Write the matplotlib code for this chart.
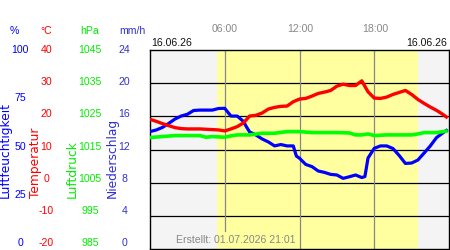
import matplotlib
matplotlib.use("Agg")
import matplotlib.pyplot as plt

# ---------------- data ----------------
temp_hours = [0, 0.5, 1, 1.5, 2, 2.5, 3, 3.5, 4, 4.5, 5, 5.5, 6, 6.5, 7, 7.5, 8, 8.5,
              9, 9.5, 10, 10.5, 11, 11.5, 12, 12.5, 13, 13.5, 14, 14.5, 15, 15.5, 16,
              16.5, 17, 17.5, 18, 18.5, 19, 19.5, 20, 20.5, 21, 21.5, 22, 22.5, 23,
              23.5, 23.9]
temperature = [19.1, 18.5, 17.8, 17.2, 16.6, 16.3, 16.2, 16.2, 16.2, 16.1, 16.0, 15.9,
               15.6, 16.2, 16.9, 18.0, 20.1, 20.3, 21.0, 22.2, 22.7, 23.0, 23.1, 24.4,
               25.2, 25.4, 26.1, 26.9, 27.3, 27.8, 29.1, 29.7, 29.3, 29.3, 30.7, 27.4,
               25.5, 25.4, 25.8, 26.6, 27.2, 27.8, 26.6, 25.1, 23.9, 22.8, 21.8, 20.6,
               19.5]

hum_hours = [0, 0.5, 1, 1.5, 2, 2.5, 3, 3.5, 4, 4.5, 5, 5.5, 6, 6.5, 7, 7.5, 7.75, 8,
             8.5, 9, 9.5, 10, 10.5, 11, 11.5, 11.75, 12, 12.5, 13, 13.5, 14, 14.5, 15,
             15.5, 16, 16.5, 17, 17.25, 17.5, 18, 18.5, 19, 19.5, 20, 20.5, 21, 21.5,
             22, 22.5, 23, 23.5, 23.9]
humidity = [59.0, 59.8, 61.1, 63.1, 65.3, 66.8, 67.7, 69.6, 69.8, 69.8, 69.8, 70.6,
            70.7, 66.8, 66.8, 64.1, 61.3, 58.8, 57.3, 55.3, 53.8, 51.8, 52.5, 51.8,
            51.8, 46.7, 45.6, 42.5, 41.4, 39.2, 38.5, 37.5, 37.2, 35.5, 36.3, 37.2,
            35.9, 36.4, 45.7, 50.6, 51.8, 51.8, 50.5, 47.0, 43.0, 43.2, 44.7, 48.2,
            51.8, 56.0, 58.3, 60.0]

press_hours = [0, 1, 2, 3, 4, 4.5, 5, 5.5, 6, 6.5, 7, 8, 9, 10, 11, 12, 13, 14, 15,
               16, 16.5, 17, 17.5, 18, 19, 20, 21, 21.5, 22, 23, 23.5, 23.9]
pressure = [1018.6, 1018.9, 1019.2, 1019.2, 1019.2, 1018.7, 1018.9, 1018.8, 1018.7,
            1019.1, 1019.4, 1019.4, 1019.9, 1019.9, 1020.4, 1020.4, 1020.1, 1020.1,
            1020.1, 1020.0, 1019.4, 1019.4, 1019.7, 1019.2, 1019.4, 1019.4, 1019.4,
            1019.7, 1020.1, 1020.1, 1020.4, 1020.6]

sunrise, sunset = 5.38, 21.55

pct_ticks = [100, 75, 50, 25, 0]
temp_ticks = [40, 30, 20, 10, 0, -10, -20]
hpa_ticks = [1045, 1035, 1025, 1015, 1005, 995, 985]
mm_ticks = [24, 20, 16, 12, 8, 4, 0]
time_ticks = [6, 12, 18]
time_labels = ["06:00", "12:00", "18:00"]
date_label = "16.06.26"
created_label = "Erstellt: 01.07.2026 21:01"

# ---------------- styling ----------------
FONT = "Liberation Sans"
plt.rcParams["font.family"] = [FONT, "DejaVu Sans"]
FS = 7.6
BLUE = "#0000ff"
RED = "#ff0000"
GREEN = "#00ee00"
PURPLE = "#3030d0"
GRAY = "#888888"

W, H = 450, 250
fig = plt.figure(figsize=(4.5, 2.5), dpi=100)
fig.patch.set_facecolor("white")


def fx(px):
    return px / W


def fy(py):
    return 1 - py / H


L, T, R, B = 150, 50, 449, 249
pos = [fx(L), fy(B), (R - L) / W, (B - T) / H]

ax = fig.add_axes(pos)
ax.set_xlim(0, 24)
ax.set_ylim(min(temp_ticks), max(temp_ticks))
ax.set_facecolor("#f4f4f4")
ax.axvspan(sunrise, sunset, color="#ffffa0", lw=0, zorder=0)
for v in temp_ticks[1:-1]:
    ax.axhline(v, color="black", lw=0.9, zorder=1)
for i, t in enumerate(time_ticks):
    ymin = 0.09 if i == 0 else 0.0
    ax.axvline(t, ymin=ymin, color="#888888", lw=0.9, zorder=1)
ax.set_xticks([])
ax.set_yticks([])
for s in ax.spines.values():
    s.set_color("black")
    s.set_linewidth(1.0)

ax_h = fig.add_axes(pos, frameon=False)
ax_h.set_xlim(0, 24)
ax_h.set_ylim(0, 100)
ax_h.axis("off")
ax_h.plot(hum_hours, humidity, color=BLUE, lw=2.3, solid_capstyle="butt", zorder=3)

ax_p = fig.add_axes(pos, frameon=False)
ax_p.set_xlim(0, 24)
ax_p.set_ylim(min(hpa_ticks), max(hpa_ticks))
ax_p.axis("off")
ax_p.plot(press_hours, pressure, color="#00ff00", lw=2.6, solid_capstyle="butt", zorder=3)

ax_t = fig.add_axes(pos, frameon=False)
ax_t.set_xlim(0, 24)
ax_t.set_ylim(min(temp_ticks), max(temp_ticks))
ax_t.axis("off")
ax_t.plot(temp_hours, temperature, color=RED, lw=2.4, solid_capstyle="butt", zorder=3)

# ---------------- texts ----------------
for t, lab in zip(time_ticks, time_labels):
    xp = L + t / 24 * (R - L + 1)
    fig.text(fx(xp), fy(29), lab, color=GRAY, fontsize=FS, ha="center", va="center")
fig.text(fx(151), fy(43), date_label, color="#111111", fontsize=FS, ha="left", va="center")
fig.text(fx(447), fy(43), date_label, color="#111111", fontsize=FS, ha="right", va="center")
fig.text(fx(236), fy(240), created_label, color=GRAY, fontsize=FS, ha="center", va="center")

fig.text(fx(14), fy(31), "%", color=BLUE, fontsize=FS, ha="center", va="center")
fig.text(fx(46.5), fy(31), "°C", color=RED, fontsize=FS, ha="center", va="center")
fig.text(fx(89.5), fy(31), "hPa", color=GREEN, fontsize=FS, ha="center", va="center")
fig.text(fx(132), fy(31), "mm/h", color=PURPLE, fontsize=FS, ha="center", va="center")

top_px, bot_px = 50, 243
n = len(temp_ticks) - 1
step = (bot_px - top_px) / n
for i, v in enumerate(temp_ticks):
    fig.text(fx(46.5), fy(top_px + i * step), f"{v}", color=RED, fontsize=FS,
             ha="center", va="center")
for i, v in enumerate(hpa_ticks):
    fig.text(fx(90), fy(top_px + i * step), f"{v}", color=GREEN, fontsize=FS,
             ha="center", va="center")
for i, v in enumerate(mm_ticks):
    fig.text(fx(124.5), fy(top_px + i * step), f"{v}", color=PURPLE, fontsize=FS,
             ha="center", va="center")
nP = len(pct_ticks) - 1
stepP = (bot_px - top_px) / nP
for i, v in enumerate(pct_ticks):
    fig.text(fx(20), fy(top_px + i * stepP), f"{v}", color=BLUE, fontsize=FS,
             ha="center", va="center")

RFS = 8.8
fig.text(fx(5.5), fy(198), "Luftfeuchtigkeit", color=BLUE, fontsize=RFS, rotation=90,
         ha="center", va="bottom", family="DejaVu Sans")
fig.text(fx(35), fy(198), "Temperatur", color=RED, fontsize=RFS, rotation=90,
         ha="center", va="bottom", family="DejaVu Sans")
fig.text(fx(72), fy(198), "Luftdruck", color=GREEN, fontsize=RFS, rotation=90,
         ha="center", va="bottom", family="DejaVu Sans")
fig.text(fx(112.5), fy(198), "Niederschlag", color=PURPLE, fontsize=RFS, rotation=90,
         ha="center", va="bottom", family="DejaVu Sans")

fig.savefig("out.png", dpi=100)
